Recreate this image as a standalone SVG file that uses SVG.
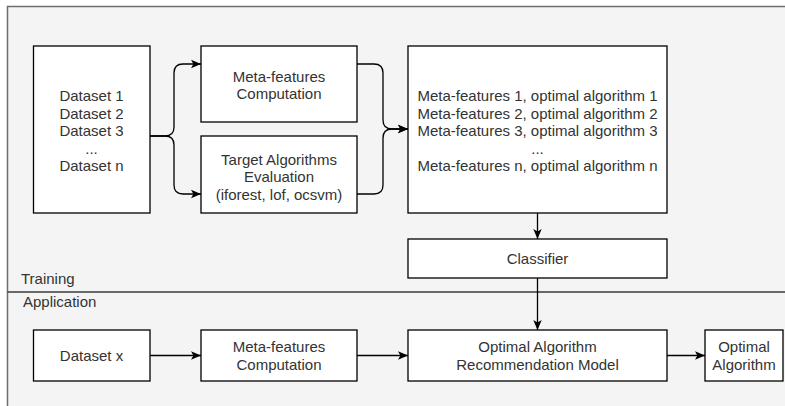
<svg xmlns="http://www.w3.org/2000/svg" width="785" height="406" viewBox="0 0 785 406">
  <defs>
    <marker id="arr" markerUnits="userSpaceOnUse" markerWidth="10" markerHeight="10" viewBox="0 0 10 10" refX="10" refY="5" orient="auto">
      <path d="M0,0.8 L10,5 L0,9.2 L2.4,5 z" fill="#000"/>
    </marker>
    <style>
      .box { fill: #ffffff; stroke: #000000; stroke-width: 1.3; }
      .t { font-family: "Liberation Sans", Arial, Helvetica, sans-serif; font-size: 15px; fill: #333333; text-anchor: middle; }
      .lbl { font-family: "Liberation Sans", Arial, Helvetica, sans-serif; font-size: 15px; fill: #333333; }
      .c { fill: none; stroke: #000000; stroke-width: 1.3; marker-end: url(#arr); }
    </style>
  </defs>
  <rect x="0" y="0" width="785" height="406" fill="#ffffff"/>
  <g id="container">
    <rect x="7.5" y="6.5" width="790" height="410" fill="#f4f4f4" stroke="#6e6e6e" stroke-width="1.5"/>
    <line x1="7.5" y1="292" x2="785" y2="292" stroke="#3a3a3a" stroke-width="1.3"/>
    <text class="lbl" x="21" y="284">Training</text>
    <text class="lbl" x="23" y="307">Application</text>
  </g>
  <g id="datasets">
    <rect class="box" x="33.5" y="46" width="116.5" height="167"/>
    <text class="t" x="91.5" y="101">Dataset 1</text>
    <text class="t" x="91.5" y="118.5">Dataset 2</text>
    <text class="t" x="91.5" y="136">Dataset 3</text>
    <text class="t" x="91.5" y="153.5">...</text>
    <text class="t" x="91.5" y="171">Dataset n</text>
  </g>
  <g id="metafeatures-train">
    <rect class="box" x="201" y="46" width="156" height="76"/>
    <text class="t" x="279" y="81.5">Meta-features</text>
    <text class="t" x="279" y="99">Computation</text>
  </g>
  <g id="target-eval">
    <rect class="box" x="201" y="136" width="156" height="77"/>
    <text class="t" x="279" y="164.5">Target Algorithms</text>
    <text class="t" x="279" y="182">Evaluation</text>
    <text class="t" x="279" y="199.5">(iforest, lof, ocsvm)</text>
  </g>
  <g id="meta-list">
    <rect class="box" x="408" y="46" width="259" height="167"/>
    <text class="t" x="537.5" y="101">Meta-features 1, optimal algorithm 1</text>
    <text class="t" x="537.5" y="118.5">Meta-features 2, optimal algorithm 2</text>
    <text class="t" x="537.5" y="136">Meta-features 3, optimal algorithm 3</text>
    <text class="t" x="537.5" y="153.5">...</text>
    <text class="t" x="537.5" y="171">Meta-features n, optimal algorithm n</text>
  </g>
  <g id="classifier">
    <rect class="box" x="408" y="239" width="259" height="39"/>
    <text class="t" x="537.5" y="264">Classifier</text>
  </g>
  <g id="dataset-x">
    <rect class="box" x="33.5" y="330" width="116.5" height="51"/>
    <text class="t" x="91.5" y="361">Dataset x</text>
  </g>
  <g id="metafeatures-app">
    <rect class="box" x="201" y="330" width="156" height="51"/>
    <text class="t" x="279" y="352">Meta-features</text>
    <text class="t" x="279" y="369.5">Computation</text>
  </g>
  <g id="recommendation-model">
    <rect class="box" x="408" y="330" width="259" height="51"/>
    <text class="t" x="537.5" y="352">Optimal Algorithm</text>
    <text class="t" x="537.5" y="369.5">Recommendation Model</text>
  </g>
  <g id="optimal-algorithm">
    <rect class="box" x="705" y="330" width="78" height="51"/>
    <text class="t" x="744" y="352">Optimal</text>
    <text class="t" x="744" y="369.5">Algorithm</text>
  </g>
  <g id="connectors">
    <path class="c" d="M150,136 H165 Q174,136 174,127 V73 Q174,64 183,64 H201"/>
    <path class="c" d="M150,136 H165 Q174,136 174,145 V185 Q174,194 183,194 H201"/>
    <path class="c" d="M357,64 H374 Q383,64 383,73 V120 Q383,129 392,129 H408"/>
    <path class="c" d="M357,194 H374 Q383,194 383,185 V138 Q383,129 392,129 H408"/>
    <path class="c" d="M537.5,213 V239"/>
    <path class="c" d="M537.5,278 V330"/>
    <path class="c" d="M150,355.5 H201"/>
    <path class="c" d="M357,355.5 H408"/>
    <path class="c" d="M667,355.5 H705"/>
  </g>
</svg>
